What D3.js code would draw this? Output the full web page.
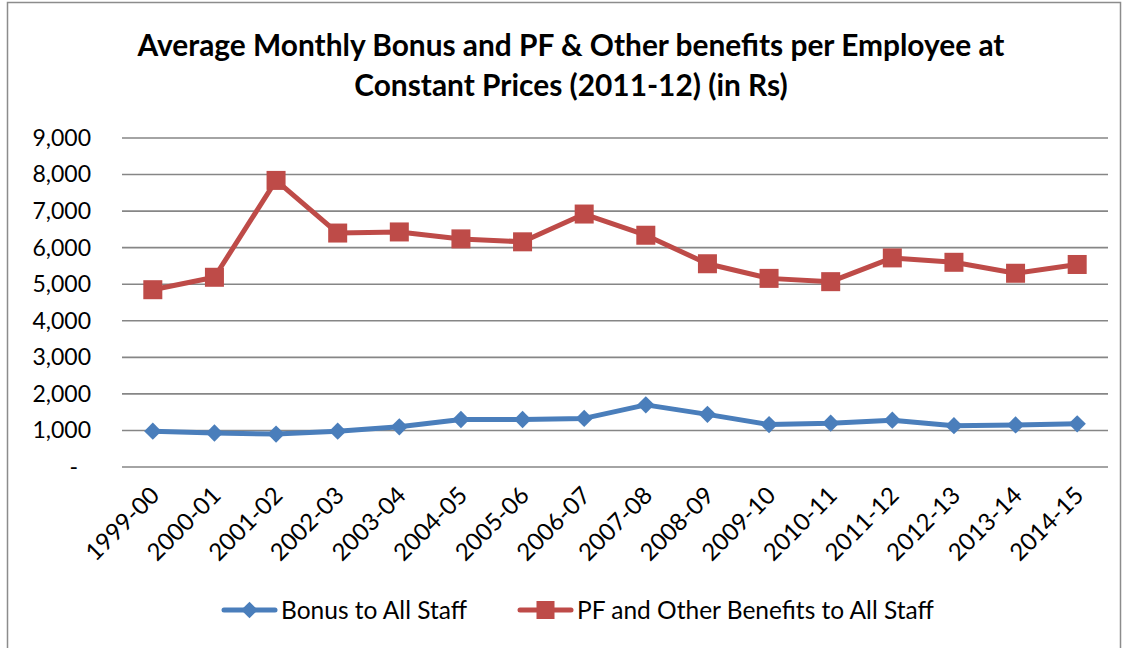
<!DOCTYPE html>
<html>
<head>
<meta charset="utf-8">
<script src="https://cdn.jsdelivr.net/npm/d3@7"></script>
<style>
  html, body { margin: 0; padding: 0; background: #fff; }
  svg { display: block; }
  text { font-family: Lato, "Open Sans", sans-serif; fill: #000; }
</style>
</head>
<body>
<svg id="chart" width="1127" height="648"></svg>
<script>
// Financial years on the category axis
const years = ["1999-00","2000-01","2001-02","2002-03","2003-04","2004-05","2005-06","2006-07",
               "2007-08","2008-09","2009-10","2010-11","2011-12","2012-13","2013-14","2014-15"];

// Average monthly bonus per employee (Rs, 2011-12 prices)
const bonus = [980, 930, 900, 980, 1100, 1300, 1300, 1330, 1700, 1440, 1160, 1200, 1280, 1130, 1150, 1180];

// Average monthly PF & other benefits per employee (Rs, 2011-12 prices)
const pfOther = [4850, 5190, 7840, 6400, 6430, 6240, 6160, 6920, 6340, 5560, 5160, 5070, 5720, 5600, 5300, 5540];

const yTicks = [0, 1000, 2000, 3000, 4000, 5000, 6000, 7000, 8000, 9000];

const seriesNames = ["Bonus to All Staff", "PF and Other Benefits to All Staff"];
const titleLines = ["Average Monthly Bonus and PF & Other benefits per Employee at",
                    "Constant Prices (2011-12) (in Rs)"];

const colors = { bonus: "#4A7EBB", pf: "#BE4B48" };

const svg = d3.select("#chart");
const plot = { left: 122, right: 1108, top: 138, bottom: 467 };

// Chart frame
svg.append("rect")
  .attr("x", 7.5).attr("y", 2.5)
  .attr("width", 1113).attr("height", 660)
  .attr("fill", "#fff").attr("stroke", "#8c8c8c").attr("stroke-width", 1.5);

// Title, two centred lines sized to a common width
const title = svg.append("g");
const titleCx = 571;
const t1 = title.append("text")
  .attr("x", titleCx).attr("y", 56)
  .attr("text-anchor", "middle").attr("font-weight", "bold")
  .attr("font-size", 30).text(titleLines[0]);
const len1 = t1.node().getComputedTextLength();
const titleSize = 30 * 867 / len1;
t1.attr("font-size", titleSize);
title.append("text")
  .attr("x", titleCx).attr("y", 96)
  .attr("text-anchor", "middle").attr("font-weight", "bold")
  .attr("font-size", titleSize).text(titleLines[1]);

// Scales
const x = d3.scaleBand().domain(years).range([plot.left, plot.right]);
const y = d3.scaleLinear().domain([0, 9000]).range([plot.bottom, plot.top]);
const cx = d => x(d) + x.bandwidth() / 2;

// Horizontal gridlines
svg.append("g")
  .selectAll("line")
  .data(yTicks)
  .join("line")
  .attr("x1", plot.left).attr("x2", plot.right)
  .attr("y1", d => y(d)).attr("y2", d => y(d))
  .attr("stroke", "#868686").attr("stroke-width", 1.6);

// Y axis labels
const fmt = d3.format(",");
const yAxis = svg.append("g")
  .attr("transform", `translate(${plot.left - 31},0)`)
  .call(d3.axisLeft(y).tickValues(yTicks).tickSize(0).tickPadding(0)
        .tickFormat(d => d === 0 ? "-" : fmt(d)));
yAxis.select(".domain").remove();
yAxis.selectAll("text")
  .attr("font-size", 23)
  .style("font-family", "Lato, 'Open Sans', sans-serif")
  .attr("fill", "#000")
  .attr("dx", d => d === 0 ? -13 : 0);

// X axis labels, rotated
const xAxis = svg.append("g")
  .attr("transform", `translate(0,${plot.bottom})`)
  .call(d3.axisBottom(x).tickSize(0).tickPadding(0));
xAxis.select(".domain").remove();
xAxis.selectAll("text")
  .attr("font-size", 24)
  .style("font-family", "Lato, 'Open Sans', sans-serif")
  .attr("fill", "#000")
  .attr("text-anchor", "end")
  .attr("dy", 0)
  .attr("transform", "translate(8,30) rotate(-45)");

// Lines
const line = d3.line().x((d, i) => cx(years[i])).y(d => y(d));

svg.append("path").datum(pfOther)
  .attr("d", line).attr("fill", "none")
  .attr("stroke", colors.pf).attr("stroke-width", 5).attr("stroke-linejoin", "round");
svg.append("path").datum(bonus)
  .attr("d", line).attr("fill", "none")
  .attr("stroke", colors.bonus).attr("stroke-width", 5).attr("stroke-linejoin", "round");

// Markers
const sq = 19;
svg.append("g").selectAll("rect")
  .data(pfOther).join("rect")
  .attr("x", (d, i) => cx(years[i]) - sq / 2)
  .attr("y", d => y(d) - sq / 2)
  .attr("width", sq).attr("height", sq)
  .attr("fill", colors.pf);

svg.append("g").selectAll("path")
  .data(bonus).join("path")
  .attr("transform", (d, i) => `translate(${cx(years[i])},${y(d)}) rotate(45)`)
  .attr("d", d3.symbol().type(d3.symbolSquare).size(150))
  .attr("fill", colors.bonus);

// Legend
const legendY = 610;
const legendItems = [
  { name: seriesNames[0], color: colors.bonus, x: 222, marker: "diamond" },
  { name: seriesNames[1], color: colors.pf, x: 518, marker: "square" }
];
const lg = svg.append("g");
legendItems.forEach(it => {
  const g = lg.append("g").attr("transform", `translate(${it.x},${legendY})`);
  g.append("line").attr("x1", 2).attr("x2", 53).attr("y1", 0).attr("y2", 0)
    .attr("stroke", it.color).attr("stroke-width", 5).attr("stroke-linecap", "round");
  if (it.marker === "square") {
    g.append("rect").attr("x", 27.5 - 9).attr("y", -9).attr("width", 18).attr("height", 18)
      .attr("fill", it.color);
  } else {
    g.append("path").attr("transform", "translate(27.5,0) rotate(45)")
      .attr("d", d3.symbol().type(d3.symbolSquare).size(140)).attr("fill", it.color);
  }
  g.append("text").attr("x", 59).attr("y", 0).attr("dy", "0.35em")
    .attr("font-size", 24.5).text(it.name);
});
</script>
</body>
</html>
